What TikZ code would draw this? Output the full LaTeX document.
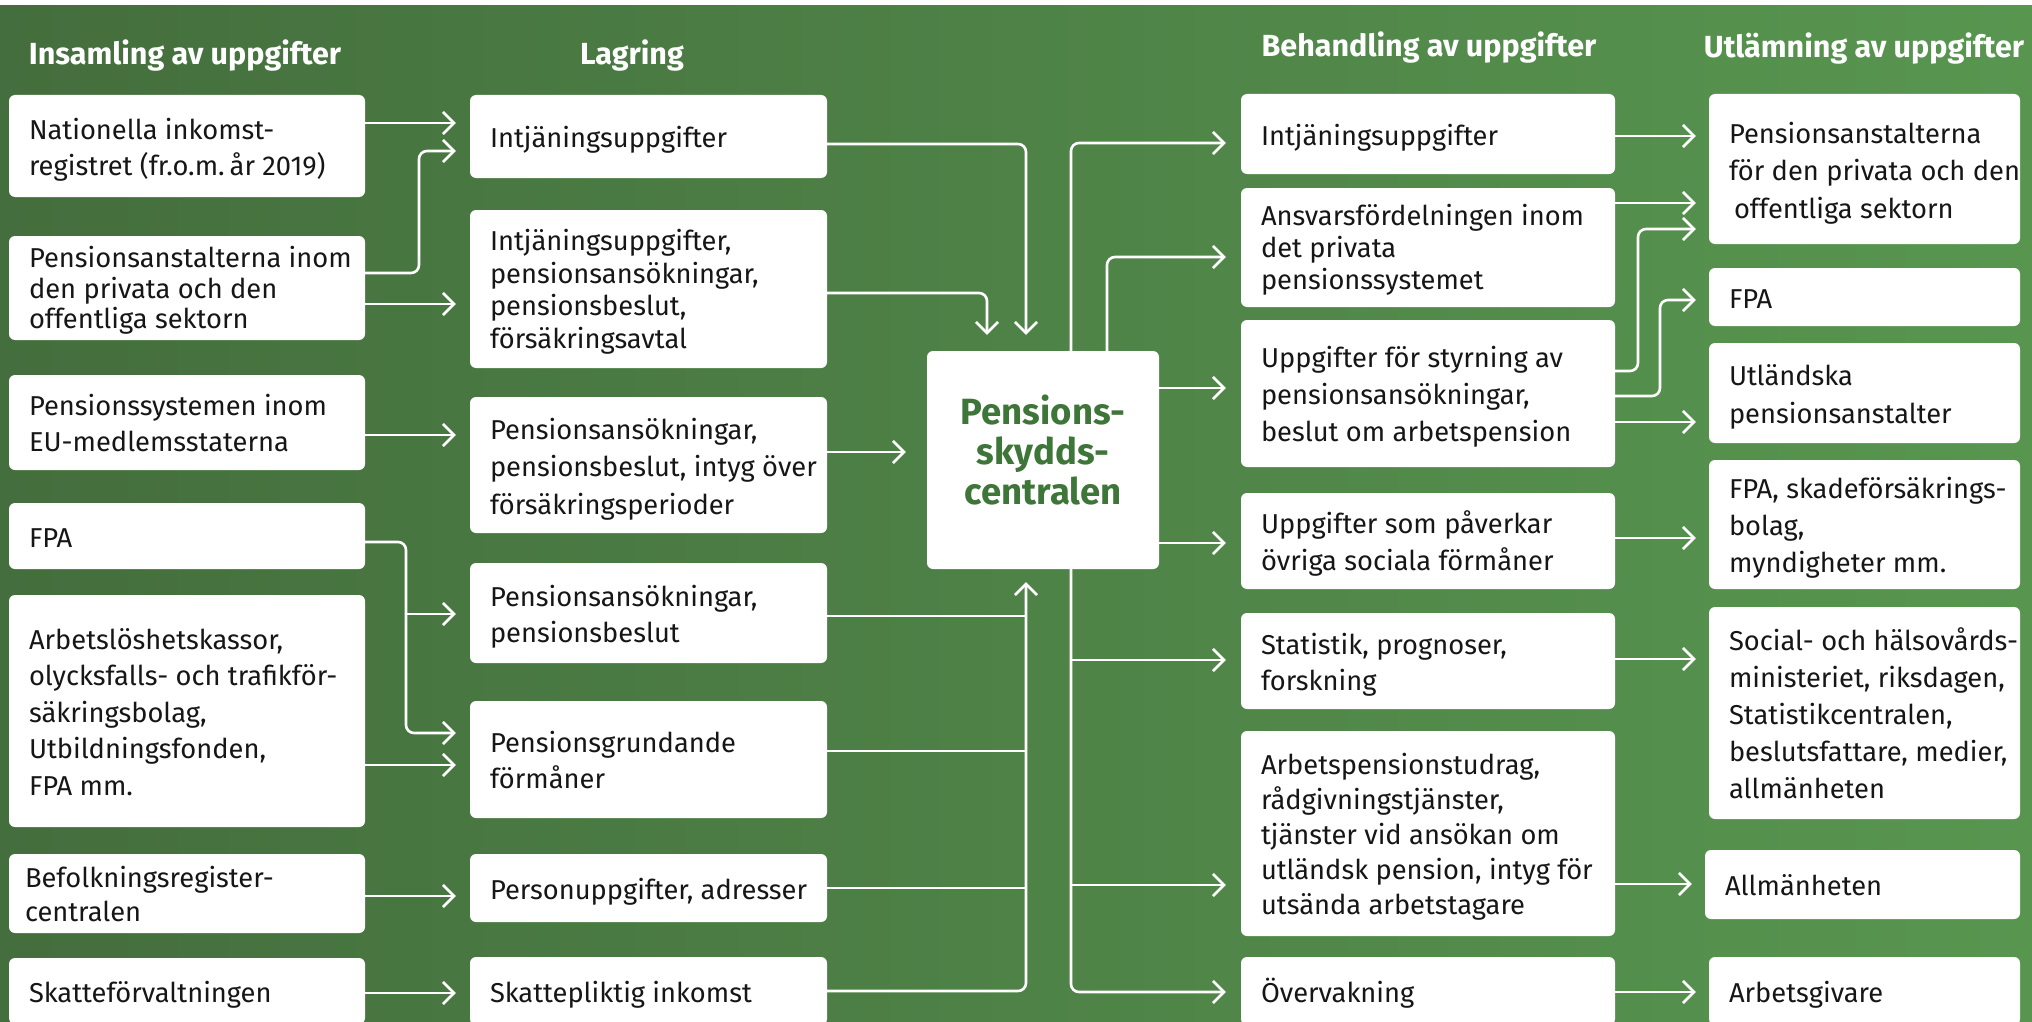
\documentclass[tikz,border=0pt]{standalone}
\usepackage{fontspec}
\setmainfont{Fira Sans}
\usetikzlibrary{arrows.meta,calc}
\definecolor{bgL}{RGB}{68,110,61}
\definecolor{bgR}{RGB}{88,150,80}
\definecolor{txt}{RGB}{22,22,22}
\definecolor{psc}{RGB}{62,117,56}
\tikzset{
  boxst/.style={fill=white, rounded corners=6pt, inner xsep=20pt, inner ysep=0pt, align=left, text=txt},
  conn/.style={draw=white, line width=2.6pt, rounded corners=8pt},
  arr/.style={conn, -{Straight Barb[length=11pt,width=22pt]}, shorten >=14pt},
  hdr/.style={text=white, font=\fontsize{30.5}{36}\selectfont\bfseries, anchor=base, inner sep=0pt},
}
\newcommand{\mkbox}[7]{%
  \pgfmathsetmacro{\bw}{#4-#2}%
  \pgfmathsetmacro{\bh}{#5-#3}%
  \pgfmathsetmacro{\tw}{#4-#2-40}%
  \node[boxst, minimum width=\bw pt, minimum height=\bh pt, text width=\tw pt] (#1) at ({(#2+#4)/2},{(#3+#5)/2}) {\fontsize{27.3}{#6}\selectfont\spaceskip=0.27em plus 0.1em minus 0.05em\raisebox{-4pt}[\height][\depth]{\begin{tabular}{@{}l@{}}#7\end{tabular}}};}
\begin{document}
\begin{tikzpicture}[x=1pt,y=-1pt]
\useasboundingbox (0,0) rectangle (2032,1022);
\fill[white] (0,0) rectangle (2032,1022);
\shade[left color=bgL, right color=bgR] (0,6) rectangle (2032,1022);

% headers
\node[hdr] (h1) at (185,65) {Insamling av uppgifter};
\node[hdr] (h2) at (632,65) {Lagring};
\node[hdr] (h3) at (1429,57) {Behandling av uppgifter};
\node[hdr] (h4) at (1864,58) {Utlämning av uppgifter};

% column A
\mkbox{A1}{9}{95}{365}{197}{36}{Nationella inkomst-\\registret (fr.o.m. år 2019)}
\mkbox{A2}{9}{236}{365}{340}{30}{Pensionsanstalterna inom\\den privata och den\\offentliga sektorn}
\mkbox{A3}{9}{375}{365}{470}{36}{Pensionssystemen inom\\EU-medlemsstaterna}
\mkbox{A4}{9}{503}{365}{569}{36}{FPA}
\mkbox{A5}{9}{595}{365}{827}{36.5}{Arbetslöshetskassor,\\olycksfalls- och trafikför-\\säkringsbolag,\\Utbildningsfonden,\\FPA mm.}
\mkbox{A6}{9}{854}{365}{933}{34}{\hspace{-4pt}Befolkningsregister-\\\hspace{-4pt}centralen}
\mkbox{A7}{9}{958}{365}{1024}{36}{Skatteförvaltningen}

% column B
\mkbox{B1}{470}{95}{827}{178}{36}{Intjäningsuppgifter}
\mkbox{B2}{470}{210}{827}{368}{32.4}{Intjäningsuppgifter,\\pensionsansökningar,\\pensionsbeslut,\\försäkringsavtal}
\mkbox{B3}{470}{397}{827}{533}{37.5}{Pensionsansökningar,\\pensionsbeslut, intyg över\\försäkringsperioder}
\mkbox{B4}{470}{563}{827}{663}{36}{Pensionsansökningar,\\pensionsbeslut}
\mkbox{B5}{470}{701}{827}{818}{36}{Pensionsgrundande\\förmåner}
\mkbox{B6}{470}{854}{827}{922}{36}{Personuppgifter, adresser}
\mkbox{B7}{470}{957}{827}{1025}{36}{Skattepliktig inkomst}

% centre
\node[fill=white, rounded corners=6pt, minimum width=232pt, minimum height=218pt, text=psc, font=\fontsize{36.5}{40}\selectfont\bfseries, align=center] (P) at (1043,460) {\raisebox{4pt}[\height][\depth]{\begin{tabular}{@{}c@{}}Pensions-\\skydds-\\centralen\end{tabular}}};

% column C
\mkbox{C1}{1241}{94}{1615}{174}{36}{Intjäningsuppgifter}
\mkbox{C2}{1241}{188}{1615}{307}{32}{Ansvarsfördelningen inom\\det privata\\pensionssystemet}
\mkbox{C3}{1241}{320}{1615}{467}{37}{Uppgifter för styrning av\\pensionsansökningar,\\beslut om arbetspension}
\mkbox{C4}{1241}{493}{1615}{589}{37}{Uppgifter som påverkar\\övriga sociala förmåner}
\mkbox{C5}{1241}{613}{1615}{709}{36}{Statistik, prognoser,\\forskning}
\mkbox{C6}{1241}{731}{1615}{936}{35}{Arbetspensionstudrag,\\rådgivningstjänster,\\tjänster vid ansökan om\\utländsk pension, intyg för\\utsända arbetstagare}
\mkbox{C7}{1241}{957}{1615}{1025}{36}{Övervakning}

% column D
\mkbox{D1}{1709}{94}{2020}{244}{37.5}{Pensionsanstalterna\\för den privata och den\\\hspace{5pt}offentliga sektorn}
\mkbox{D2}{1709}{268}{2020}{326}{36}{FPA}
\mkbox{D3}{1709}{343}{2020}{443}{37.5}{Utländska\\pensionsanstalter}
\mkbox{D4}{1709}{460}{2020}{589}{37}{FPA, skadeförsäkrings-\\bolag,\\myndigheter mm.}
\mkbox{D5}{1709}{607}{2020}{819}{37}{Social- och hälsovårds-\\ministeriet, riksdagen,\\Statistikcentralen,\\beslutsfattare, medier,\\allmänheten}
\mkbox{D6}{1705}{850}{2020}{919}{36}{Allmänheten}
\mkbox{D7}{1709}{957}{2020}{1025}{36}{Arbetsgivare}

% A -> B
\draw[arr] (A1.east |- 0,123) -- (B1.west |- 0,123);
\draw[arr] (A2.east |- 0,273) -- (419,273) -- (419,151) -- (B1.west |- 0,151);
\draw[arr] (A2.east |- 0,304) -- (B2.west |- 0,304);
\draw[arr] (A3.east |- 0,435) -- (B3.west |- 0,435);
\draw[arr] (A4.east |- 0,542) -- (406,542) -- (406,733) -- (B5.west |- 0,733);
\coordinate (jA4) at (406,614);
\draw[arr] (jA4) -- (B4.west |- jA4);
\draw[arr] (A5.east |- 0,765) -- (B5.west |- 0,765);
\draw[arr] (A6.east |- 0,896) -- (B6.west |- 0,896);
\draw[arr] (A7.east |- 0,993) -- (B7.west |- 0,993);

% B -> P
\draw[arr, shorten >=16pt] (B1.east |- 0,144) -| (1026,0 |- P.north);
\draw[arr, shorten >=16pt] (B2.east |- 0,293) -| (987,0 |- P.north);
\draw[arr, shorten >=21pt] (B3.east |- 0,452) -- (P.west |- 0,452);
\draw[arr, shorten >=13pt] (B7.east |- 0,991) -| (1026,0 |- P.south);
\coordinate (tB4) at (1026,616);
\coordinate (tB5) at (1026,751);
\coordinate (tB6) at (1026,888);
\draw[conn] (B4.east |- tB4) -- (tB4);
\draw[conn] (B5.east |- tB5) -- (tB5);
\draw[conn] (B6.east |- tB6) -- (tB6);

% P -> C
\draw[arr, shorten >=15pt] (1071,0 |- P.north) |- (C1.west |- 0,143);
\draw[arr, shorten >=15pt] (1107,0 |- P.north) |- (C2.west |- 0,257);
\draw[arr, shorten >=15pt] (P.east |- 0,388) -- (C3.west |- 0,388);
\draw[arr, shorten >=15pt] (P.east |- 0,543) -- (C4.west |- 0,543);
\draw[arr, shorten >=15pt] (1071,0 |- P.south) |- (C7.west |- 0,992);
\coordinate (tC5) at (1071,660);
\coordinate (tC6) at (1071,885);
\draw[arr, shorten >=15pt] (tC5) -- (C5.west |- tC5);
\draw[arr, shorten >=15pt] (tC6) -- (C6.west |- tC6);

% C -> D
\draw[arr, shorten >=13pt] (C1.east |- 0,136) -- (D1.west |- 0,136);
\draw[arr, shorten >=13pt] (C2.east |- 0,203) -- (D1.west |- 0,203);
\draw[arr, shorten >=13pt] (C3.east |- 0,371) -- (1638,371) -- (1638,229) -- (D1.west |- 0,229);
\draw[arr, shorten >=13pt] (C3.east |- 0,396) -- (1660,396) -- (1660,300) -- (D2.west |- 0,300);
\draw[arr, shorten >=13pt] (C3.east |- 0,422) -- (D3.west |- 0,422);
\draw[arr, shorten >=13pt] (C4.east |- 0,538) -- (D4.west |- 0,538);
\draw[arr, shorten >=13pt] (C5.east |- 0,659) -- (D5.west |- 0,659);
\draw[arr, shorten >=13pt] (C6.east |- 0,884) -- (D6.west |- 0,884);
\draw[arr, shorten >=13pt] (C7.east |- 0,992) -- (D7.west |- 0,992);
\end{tikzpicture}
\end{document}
